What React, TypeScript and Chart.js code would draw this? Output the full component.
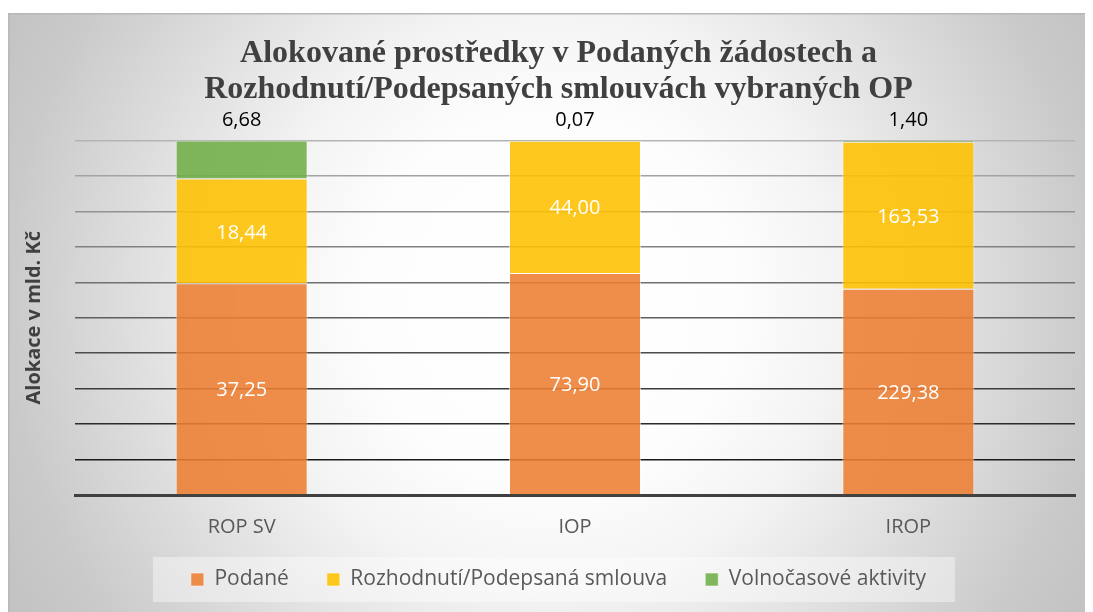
import React, { useEffect, useRef } from 'react';
import { Chart, registerables } from 'chart.js';

Chart.register(...registerables);

const categories = ['ROP SV', 'IOP', 'IROP'];
const seriesNames = ['Podané', 'Rozhodnutí/Podepsaná smlouva', 'Volnočasové aktivity'];
const podane = [37.25, 73.9, 229.38];
const rozhodnuti = [18.44, 44.0, 163.53];
const volnocasove = [6.68, 0.07, 1.4];
const seriesColors = ['rgba(237,125,49,0.88)', 'rgba(255,192,0,0.88)', 'rgba(112,173,71,0.88)'];
const titleLines = ['Alokované prostředky v Podaných žádostech a', 'Rozhodnutí/Podepsaných smlouvách vybraných OP'];
const yAxisTitle = 'Alokace v mld. Kč';

const rawSeries = [podane, rozhodnuti, volnocasove];
const totals = categories.map((_, i) => rawSeries.reduce((s, arr) => s + arr[i], 0));
const percentSeries = rawSeries.map((arr) => arr.map((v, i) => (v / totals[i]) * 100));

const fmt = (v: number) => v.toFixed(2).replace('.', ',');

const backgroundPlugin = {
  id: 'bgPlugin',
  afterLayout(chart: any) {
    const lg = chart.legend;
    if (lg) {
      const h = lg.height;
      lg.top = 518;
      lg.bottom = 518 + h;
    }
  },
  beforeDraw(chart: any) {
    const { ctx, width, height } = chart;
    ctx.save();
    const g = ctx.createRadialGradient(542, 287, 0, 542, 287, 610);
    g.addColorStop(0, '#ffffff');
    g.addColorStop(0.3, '#fdfdfd');
    g.addColorStop(0.47, '#f4f4f4');
    g.addColorStop(0.89, '#cacaca');
    g.addColorStop(1, '#c3c3c3');
    ctx.fillStyle = g;
    ctx.fillRect(0, 0, width, height);
    ctx.strokeStyle = '#b8b8b8';
    ctx.lineWidth = 1.5;
    ctx.strokeRect(0.75, 0.75, width + 5, height + 5);
    ctx.fillStyle = 'rgba(255,255,255,0.4)';
    ctx.fillRect(145, 544, 802, 45);
    ctx.restore();
  },
};

const labelPlugin = {
  id: 'labelPlugin',
  afterDatasetsDraw(chart: any) {
    const { ctx } = chart;
    ctx.save();
    ctx.font = '20px "Open Sans"';
    ctx.textAlign = 'center';
    ctx.textBaseline = 'middle';
    rawSeries.forEach((arr, di) => {
      const meta = chart.getDatasetMeta(di);
      meta.data.forEach((bar: any, j: number) => {
        const { x, y, base } = bar.getProps(['x', 'y', 'base'], true);
        const text = fmt(arr[j]);
        if (di < 2) {
          ctx.fillStyle = '#ffffff';
          ctx.fillText(text, x, (y + base) / 2 + 2);
        } else {
          ctx.fillStyle = '#000000';
          ctx.fillText(text, x, y - 20);
        }
      });
    });
    ctx.restore();
  },
};

export default function App() {
  const ref = useRef<HTMLCanvasElement>(null);
  useEffect(() => {
    document.body.style.overflow = 'hidden';
    document.documentElement.style.overflow = 'hidden';
    if (!ref.current) return;
    const chart = new Chart(ref.current, {
      type: 'bar',
      data: {
        labels: categories,
        datasets: seriesNames.map((name, i) => ({
          label: name,
          data: percentSeries[i],
          backgroundColor: seriesColors[i],
          borderColor: 'rgba(255,255,255,0.55)',
          borderWidth: 1,
          barPercentage: 0.396,
          categoryPercentage: 1,
        })),
      },
      options: {
        animation: false,
        responsive: true,
        maintainAspectRatio: false,
        layout: { padding: { left: 16, right: 0, top: 0, bottom: 0 } },
        plugins: {
          tooltip: { enabled: false },
          title: {
            display: true,
            text: titleLines,
            color: '#404040',
            font: { family: '"Liberation Serif", "Times New Roman", serif', size: 32, weight: 'bold', lineHeight: 1.14 },
            padding: { top: 22.25, bottom: 32.25 },
          },
          legend: {
            position: 'bottom',
            labels: {
              color: '#595959',
              font: { family: '"Open Sans", sans-serif', size: 21 },
              boxWidth: 13,
              boxHeight: 13,
              padding: 38,
            },
          },
        },
        scales: {
          x: {
            stacked: true,
            z: 1,
            grid: { display: false, drawTicks: false },
            border: { display: true, color: '#404040', width: 3 },
            ticks: { color: '#595959', font: { family: '"Open Sans", sans-serif', size: 20 }, padding: 20 },
            afterFit: (s: any) => { s.height = 48; },
          },
          y: {
            stacked: true,
            min: 0,
            max: 100,
            ticks: { display: false, stepSize: 10 },
            border: { display: false },
            grid: {
              drawTicks: false,
              lineWidth: 1.5,
              color: (c: any) => {
                const v = c.tick ? c.tick.value : 0;
                if (v <= 0) return 'rgba(0,0,0,0)';
                const g = Math.round(26 + ((v - 10) / 90) * (180 - 26));
                return `rgb(${g},${g},${g})`;
              },
            },
            title: {
              display: true,
              text: yAxisTitle,
              color: '#404040',
              font: { family: '"Open Sans", sans-serif', size: 20, weight: 'bold', lineHeight: 1 },
              padding: { top: 0, bottom: 0 },
            },
            afterFit: (s: any) => { s.width = 51; },
          },
          y2: {
            position: 'right',
            display: true,
            grid: { display: false, drawTicks: false },
            ticks: { display: false },
            border: { display: false },
            afterFit: (s: any) => { s.width = 18; },
          },
        },
      },
      plugins: [backgroundPlugin, labelPlugin],
    } as any);
    return () => chart.destroy();
  }, []);
  return (
    <div style={{ paddingTop: 5 }}>
      <div style={{ position: 'relative', width: 1085, height: 599 }}>
        <canvas ref={ref} />
      </div>
    </div>
  );
}
